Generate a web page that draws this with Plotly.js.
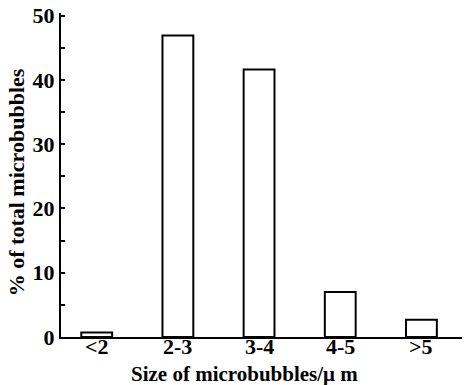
<!DOCTYPE html>
<html>
<head>
<meta charset="utf-8">
<script src="https://cdn.plot.ly/plotly-3.0.1.min.js"></script>
<style>html,body{margin:0;padding:0;background:#fff;}#chart{width:468px;height:385px;}</style>
</head>
<body>
<div id="chart"></div>
<script>
const categories = ["<2", "2-3", "3-4", "4-5", ">5"];
const percentValues = [0.7, 46.9, 41.6, 7.0, 2.7];
const yTickValues = [0, 10, 20, 30, 40, 50];
const xTitle = "Size of microbubbles/\u03bc m";
const yTitle = "% of total microbubbles";

const font = "Liberation Serif";
const f = (s) => ({family: font, size: s, weight: 700, color: "#000"});
const trace = {
  type: "bar",
  x: categories,
  y: percentValues,
  width: 0.38,
  marker: {color: "#ffffff", line: {color: "#000000", width: 2}},
  hoverinfo: "skip"
};
const annotations = categories.map(c => ({
  x: c, xref: "x", y: 0, yref: "paper", yanchor: "top", xanchor: "center",
  yshift: 5, text: c.replace("<", "&lt;").replace(">", "&gt;"), showarrow: false, font: f(22)
}));
annotations.push({
  x: 0.457, xref: "paper", y: 0, yref: "paper", yanchor: "top", xanchor: "center",
  yshift: -23, text: xTitle, showarrow: false, font: f(21)
});
annotations.push({
  x: -0.112, xref: "paper", y: 0.478, yref: "paper", yanchor: "middle", xanchor: "center",
  textangle: -90, text: yTitle, showarrow: false, font: f(22)
});
const layout = {
  width: 468, height: 385,
  margin: {l: 61, r: 6, t: 13, b: 48},
  paper_bgcolor: "#ffffff", plot_bgcolor: "#ffffff",
  showlegend: false,
  font: f(22),
  xaxis: {
    type: "category",
    range: [-0.44, 4.5],
    showline: true, linecolor: "#000", linewidth: 2,
    ticks: "", showgrid: false, zeroline: false,
    showticklabels: false
  },
  yaxis: {
    range: [0, 50.4],
    tickvals: yTickValues,
    ticktext: yTickValues.map(String),
    showline: true, linecolor: "#000", linewidth: 2,
    ticks: "inside", ticklen: 4, tickwidth: 2, tickcolor: "#000",
    minor: {dtick: 5, tick0: 0, ticks: "inside", ticklen: 4, tickwidth: 2, tickcolor: "#000", showgrid: false},
    showgrid: false, zeroline: false,
    tickfont: f(22)
  },
  annotations: annotations
};
Plotly.newPlot("chart", [trace], layout, {staticPlot: true, displayModeBar: false});
</script>
</body>
</html>
